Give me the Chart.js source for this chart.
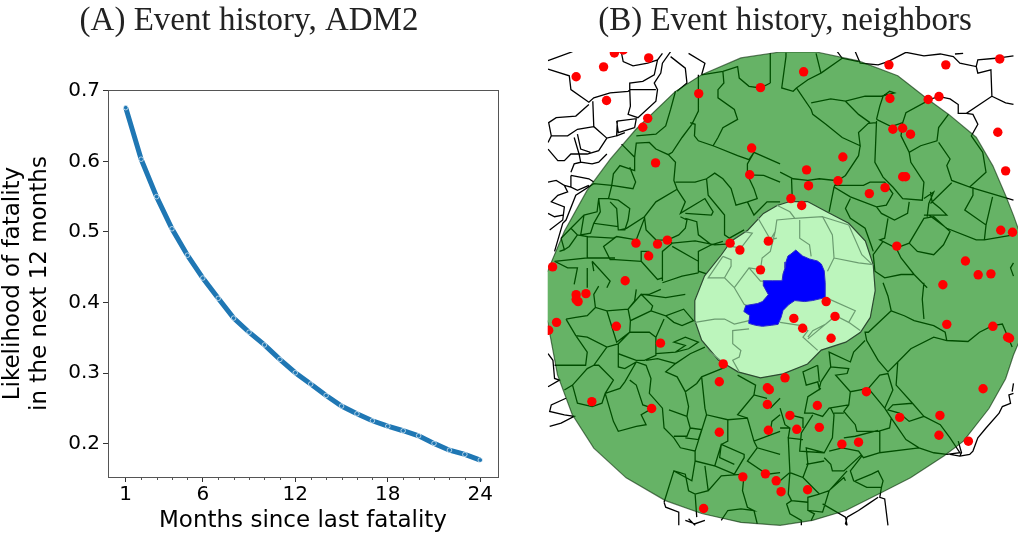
<!DOCTYPE html>
<html>
<head>
<meta charset="utf-8">
<title>Event history</title>
<script src="https://cdn.jsdelivr.net/npm/chart.js@4"></script>
<style>
  html, body { margin: 0; padding: 0; background: #fff; overflow: hidden; }
  canvas { position: absolute; top: 0; }
  #history-chart { left: 0; }
  #map-chart { left: 543px; }
</style>
</head>
<body>
<canvas id="history-chart" width="510" height="537"></canvas>
<canvas id="map-chart" width="484" height="537"></canvas>
<script>
// Panel A values
const months = [1, 2, 3, 4, 5, 6, 7, 8, 9, 10, 11, 12, 13, 14, 15, 16, 17, 18, 19, 20, 21, 22, 23, 24];
const fatalityLikelihood = [0.676, 0.603, 0.55, 0.5045, 0.467, 0.4347, 0.406, 0.378, 0.358, 0.34, 0.3195, 0.3006,
  0.2846, 0.2685, 0.2534, 0.2425, 0.2326, 0.225, 0.2185, 0.2114, 0.2006, 0.191, 0.185, 0.177];
const monthTicks = [1, 6, 12, 18, 24];
const likelihoodTicks = [0.2, 0.3, 0.4, 0.5, 0.6, 0.7];

// Panel B map coordinates
const eventsX = [611, 620, 646, 600, 572, 603, 645, 640, 697, 760, 653, 751, 749, 633, 655, 665, 646, 729, 739, 768, 760, 548, 622,
  804, 891, 949, 1004, 892, 931, 942, 895, 905, 913, 1002, 844, 807, 1010, 905, 908, 839, 809, 887, 871, 791, 802, 899, 1005, 1017, 969, 982, 995, 946,
  572, 582, 572, 574, 552, 544, 613, 658, 722, 718, 767, 769, 767, 588, 649, 768, 718, 742, 765, 776, 781, 702,
  827, 836, 794, 803, 832, 950, 997, 1012, 1014, 785, 868, 987, 818, 790, 797, 820, 902, 943, 942, 972, 860, 843, 808];
const eventsY = [53, 50, 58, 67, 77, 101, 119, 128, 94, 88, 164, 149, 176, 245, 246, 242, 258, 245, 252, 243, 272, 269, 283,
  72, 65, 65, 59, 99, 100, 97, 130, 129, 135, 133, 158, 171, 172, 178, 178, 182, 187, 189, 195, 200, 207, 248, 232, 234, 263, 277, 276, 287,
  297, 296, 302, 304, 325, 333, 329, 346, 367, 385, 391, 393, 408, 405, 412, 434, 436, 481, 478, 485, 496, 513,
  304, 319, 321, 331, 341, 327, 329, 340, 341, 381, 395, 392, 409, 419, 433, 431, 421, 419, 439, 445, 446, 448, 494];

const ringOutlineX = [780, 817, 860, 900, 931, 952, 980, 997, 1010, 1018, 1030, 1030, 1018, 1010, 993, 967, 947, 913, 883, 847, 813, 780,
  740, 700, 663, 623, 590, 568, 553, 543, 530, 530, 543, 560, 583, 607, 633, 673, 700, 740, 780];
const ringOutlineY = [52, 52, 61, 76, 100, 115, 138, 167, 197, 217, 250, 330, 358, 382, 412, 445, 460, 482, 497, 515, 525, 530,
  527, 518, 505, 482, 452, 418, 378, 325, 300, 280, 273, 233, 192, 160, 130, 92, 75, 58, 52];

const innerOutlineX = [790, 808, 827, 850, 867, 875, 877, 872, 862, 847, 822, 808, 783, 760, 737, 717, 700, 693, 693, 703, 720, 730, 747, 763, 777, 790];
const innerOutlineY = [203, 203, 213, 225, 243, 267, 293, 320, 335, 345, 353, 367, 377, 381, 375, 363, 343, 323, 303, 278, 257, 243, 232, 215, 207, 203];

const focusOutlineX = [796, 791, 788, 786, 785, 783, 782, 772, 763, 763, 768, 762, 757, 745, 743, 749, 748, 755, 762, 771, 778, 781, 783, 789, 795, 805, 813, 826, 826, 825, 822, 818, 810, 803, 796];
const focusOutlineY = [252, 256, 258, 264, 270, 276, 283, 283, 283, 288, 297, 304, 306, 308, 314, 318, 326, 328, 329, 328, 327, 320, 313, 307, 303, 304, 303, 300, 285, 273, 266, 263, 261, 258, 252];

// Admin borders traced per map quadrant, flat x,y lists in 1/3 map units from each origin
const bordersNW = [
  [10,62, 85,35], [10,88, 75,108, 80,150, 135,188, 150,175, 200,160, 255,155, 262,150, 340,150],
  [147,185, 150,262, 190,297, 220,290, 222,245, 280,238, 275,265], [135,195, 95,230, 35,235, 12,250, 20,290, 10,310],
  [20,290, 45,290, 70,290, 100,270, 150,262], [90,295, 105,345, 130,345, 165,335, 190,297], [100,285, 110,330, 140,340],
  [235,40, 240,65, 270,78, 315,70, 345,60, 360,40], [345,60, 335,105, 300,125, 260,130, 260,150, 262,200, 255,225, 285,235, 340,185, 345,150, 335,130, 355,100, 360,70, 385,35],
  [385,50, 430,85, 435,130, 405,155], [440,40, 490,70, 480,105], [10,330, 40,365, 60,365, 80,345, 105,345, 110,370, 145,375, 165,370, 190,345],
  [80,400, 90,375, 110,370], [80,410, 135,420, 150,430], [80,410, 80,445, 100,455, 135,440],
  [10,430, 35,425, 60,440, 70,460, 40,470, 20,490, 60,505, 55,545, 15,575], [60,440, 80,445], [10,525, 30,535, 55,530], [220,245, 225,280, 275,265], [220,290, 245,280],
  [400,155, 385,210, 370,260, 340,285, 280,290], [470,105, 470,165, 470,215, 450,255, 420,295, 390,340, 378,347, 340,330, 320,310, 280,312, 275,355, 235,315],
  [378,347, 400,370, 395,425, 405,452, 340,490, 305,535, 250,570, 230,575], [545,95, 548,130, 530,150, 530,175, 580,210, 590,240, 545,265, 530,295, 515,320, 470,305, 458,290, 460,255, 445,250],
  [480,105, 545,95, 590,80, 595,115, 625,140, 660,145, 690,130], [690,40, 690,130], [515,320, 590,350, 625,362, 640,340, 720,375], [640,340, 620,375, 620,408, 670,410, 720,430],
  [620,408, 640,450, 650,480, 620,490, 585,500, 570,450, 545,420, 520,403, 495,420, 460,430, 400,430], [405,452, 430,490, 415,525, 490,480, 515,520, 510,530, 430,525],
  [305,535, 310,575, 340,605, 375,606, 410,590, 430,570, 435,545, 415,535], [620,490, 640,530, 680,490, 720,490], [495,420, 500,470, 550,530, 550,590, 565,600, 610,575],
  [430,540, 465,550, 470,590, 510,620, 545,610], [390,615, 460,608, 520,620, 567,617], [375,606, 390,615, 360,640, 360,730], [390,625, 470,670, 470,705], [510,620, 470,640, 470,700, 500,710],
  [275,355, 275,395, 230,380, 210,405, 205,440, 195,480, 165,480, 160,520, 120,530, 80,570, 50,600], [205,440, 150,435, 95,470, 65,545, 55,555, 30,640], [205,440, 270,450, 278,430, 260,385],
  [195,480, 225,485, 260,510, 255,545, 245,575, 225,575, 220,510, 200,490], [165,480, 170,520, 150,555, 225,565], [120,530, 110,590, 140,585, 150,555], [80,570, 100,590, 130,595, 130,660, 30,670],
  [50,600, 60,635, 45,640], [100,590, 75,625, 60,635], [305,540, 280,605, 220,595, 180,625, 200,665, 215,665, 295,670, 295,640, 320,640], [130,660, 215,660], [130,595, 210,600, 220,595],
  [30,670, 70,690, 100,690, 90,740], [145,670, 200,730, 190,750], [130,690, 130,750], [145,670, 150,700], [295,670, 345,725, 360,720], [360,735, 420,715, 470,705]
];
const bordersNE = [
  [230,35, 245,70, 300,75, 330,65, 385,37, 440,48, 490,42, 530,50, 550,70, 600,80, 605,60, 660,55, 714,48], [535,42, 560,40],
  [600,80, 605,100, 645,90, 648,170, 570,222, 545,222, 545,195, 520,178, 487,171, 453,180], [648,170, 690,190, 714,195], [570,222, 590,225, 605,255, 585,290, 620,340], [175,35, 190,55, 240,65],
  [18,38, 18,50, 5,145, 40,155, 50,145, 85,120, 125,100, 110,40], [125,100, 190,55], [50,145, 95,210, 100,225, 140,255, 190,295, 245,320, 240,280, 270,252, 295,250],
  [95,190, 155,178, 200,185, 260,170, 310,170, 350,160, 335,155, 315,170, 305,200, 295,240], [200,185, 240,225, 275,250], [295,240, 340,262, 375,250, 385,220, 450,185],
  [375,250, 370,290, 395,340, 430,320, 480,305, 485,265, 515,225], [295,245, 290,370, 315,415, 345,445, 375,480, 435,485, 440,430, 400,370, 395,340],
  [245,320, 240,350, 200,410, 176,426, 165,445, 215,475, 295,505, 325,500, 345,465, 320,430, 275,430, 255,440, 215,440, 165,440], [176,426, 120,420, 85,425, 40,420, 0,400], [35,420, 37,475], [165,445, 150,520],
  [295,505, 310,525, 350,545, 390,525, 395,490], [215,480, 200,510, 215,540, 260,570, 280,625, 285,640], [330,540, 320,600, 305,605, 355,630, 395,615, 440,540, 470,535, 520,580, 500,620, 470,650, 420,640, 395,615],
  [440,480, 470,460, 455,495, 450,535], [460,460, 465,490, 490,510, 510,530, 440,530], [485,310, 520,360, 510,380, 525,425, 580,445, 630,400, 620,340], [525,432, 460,495],
  [580,445, 714,485], [590,445, 590,470, 565,515, 630,560, 650,475], [630,560, 625,605], [455,530, 510,570, 600,605, 625,605, 714,590], [355,630, 370,660, 410,710, 450,750],
  [315,610, 285,650, 290,700, 320,720, 370,710, 410,710], [714,675, 705,690, 714,715]
];
const bordersSW = [
  [10,215, 25,235, 30,290, 45,295, 10,315], [65,350, 20,370, 15,390, 60,400, 90,405, 50,425, 15,435], [365,665, 370,680, 410,695, 410,735], [430,720, 460,730, 490,720], [440,715, 460,735],
  [65,110, 95,105, 130,100, 155,75, 190,85, 255,80, 295,35, 330,70, 325,85, 370,100, 425,80, 455,115, 420,130, 395,120, 370,100], [155,75, 150,35, 165,10], [295,35, 320,35, 355,20], [300,35, 370,45, 430,35], [255,80, 275,55, 280,20],
  [190,85, 220,180, 260,150, 320,150, 340,165, 365,110], [255,80, 262,115, 325,85], [262,115, 260,150, 225,185, 190,195, 130,165, 95,160, 65,110], [95,160, 130,210, 125,250, 30,250],
  [190,195, 150,250, 130,260, 85,310, 60,325], [85,310, 100,365, 145,375, 175,365, 185,335, 210,295, 165,250, 150,250], [225,185, 225,215, 280,235, 305,235, 340,220, 340,165],
  [225,215, 225,255, 245,260, 280,240, 310,250, 325,290, 320,335, 360,380, 365,440, 395,470, 415,500, 460,510, 460,540], [280,240, 245,300, 230,320, 185,335, 210,420, 225,450, 280,435, 310,430, 295,400, 330,380, 300,370, 280,310, 260,295],
  [310,235, 345,230, 400,245, 370,270, 405,285, 430,330, 465,305, 480,285, 555,255], [400,245, 445,215, 490,195], [340,215, 400,210, 440,200, 470,180, 430,165, 395,180, 430,190, 400,210],
  [480,285, 490,380, 495,400, 560,415, 620,410, 640,480], [430,330, 440,375, 435,405, 380,385], [435,405, 445,440, 435,465, 395,465], [445,440, 480,445, 470,475, 430,470], [495,400, 460,510],
  [460,540, 520,555, 540,490, 610,520, 610,530, 580,580, 520,555], [540,490, 535,530, 580,550], [460,540, 450,600, 395,570, 365,665], [395,570, 430,580, 440,630, 460,640, 500,630, 490,555], [460,640, 465,710], [500,630, 540,585, 610,580],
  [610,580, 605,630, 620,680, 640,690, 600,685, 560,690, 540,720], [560,415, 560,480, 540,490], [620,410, 590,400, 640,340, 680,350], [640,480, 650,500, 720,520], [650,500, 620,540, 680,580, 720,575],
  [640,480, 720,450], [690,380, 720,350], [640,690, 650,730], [640,340, 645,310, 590,280], [720,400, 695,420, 690,450]
];
const bordersSE = [
  [315,0, 330,40, 340,85, 270,150, 260,150, 265,175, 300,235, 330,270, 360,240, 400,200, 470,165, 510,175, 575,178, 610,150, 650,130, 680,125, 710,195], [340,85, 380,100, 410,115, 470,130, 505,150, 510,175], [440,0, 435,50, 440,110],
  [360,240, 355,310, 405,365, 440,405, 395,420, 365,395, 330,385, 345,370, 405,365], [260,175, 225,210, 215,240, 150,210, 155,255, 210,260, 205,275, 170,280, 215,330, 270,320, 305,280, 330,275, 345,325, 320,380],
  [440,405, 490,430, 520,470, 550,515, 510,520], [215,330, 210,370, 195,390, 230,430, 235,450, 300,450, 335,440, 340,410, 320,380], [340,410, 385,475, 425,500, 470,515, 510,520], [270,320, 320,380], [305,450, 305,515, 425,500],
  [115,250, 70,270, 80,310, 115,300, 120,320, 125,300, 155,255], [115,250, 120,300], [125,320, 85,345, 75,395, 100,395, 130,405, 150,380, 210,370], [155,380, 165,400, 160,470, 135,515, 80,500, 85,550, 70,590, 30,575, 0,600],
  [195,395, 165,395], [195,470, 230,465, 300,447], [305,515, 255,530, 240,510, 190,500, 150,510], [135,530, 155,550, 160,570, 195,570, 250,520], [250,525, 215,570, 225,600, 265,620, 310,620, 315,600, 300,570, 280,580, 230,600],
  [80,550, 135,540], [70,590, 120,640, 150,630, 205,570], [155,625, 195,590, 200,600], [30,575, 25,470, 70,475], [25,470, 30,440, 15,430, 0,380], [100,400, 65,455, 60,510, 135,515], [0,440, 30,440], [30,400, 70,410, 70,440],
  [120,640, 85,650, 85,690, 130,695, 150,630], [130,670, 200,710, 205,735], [30,575, 25,640, 35,660, 85,665], [35,660, 20,670, 30,700, 65,720, 65,735], [95,720, 105,700, 85,690],
  [310,620, 305,650, 320,655, 330,735], [300,650, 270,670, 240,690, 205,710], [205,710, 200,730, 205,735], [520,520, 550,525, 580,520, 590,510, 605,470, 630,440, 670,395, 680,375, 705,365, 700,340, 714,335], [545,480, 555,515, 550,525], [714,305, 710,330]
];
const bordersInner = [
  [290,50, 330,70, 345,90, 290,95, 285,130, 270,155, 290,150], [345,90, 430,85, 460,140, 465,210, 445,250], [430,85, 510,110, 550,200, 580,228], [465,210, 540,225, 585,230], [360,95, 360,150, 390,170, 395,205],
  [230,85, 265,145], [190,130, 215,135, 180,180, 150,175], [285,130, 270,190, 245,210, 240,245, 205,240, 160,300, 130,270, 80,270, 125,205], [125,205, 150,215, 150,235, 130,270], [205,240, 240,280, 250,280], [160,300, 190,350, 200,355],
  [40,405, 100,395, 130,395, 160,410, 205,400], [205,425, 155,430, 155,470, 180,490, 175,510, 155,520, 175,555], [80,490, 130,530], [300,405, 365,415, 385,430, 370,450, 415,490], [385,455, 470,385, 510,405, 530,370, 440,330],
  [510,405, 545,430], [470,385, 440,410, 400,430, 385,450]
];

// origins of the traced quadrants on the map
const tileOrigins = { nw: [540, 40], ne: [780, 40], sw: [540, 285], se: [780, 285], inner: [680, 190] };

function outlinePoints(xs, ys) {
  return xs.map((x, i) => ({ x: x, y: ys[i] }));
}

// Flatten polylines to one point list, a null point breaks the line
function borderPoints(lines, origin) {
  const points = [];
  lines.forEach((line) => {
    for (let i = 0; i < line.length; i += 2) {
      points.push({ x: origin[0] + line[i] / 3, y: origin[1] + line[i + 1] / 3 });
    }
    points.push({ x: null, y: null });
  });
  return points;
}

// Frame and small month ticks for panel A
const framePlugin = {
  id: "frame",
  afterDraw(chart) {
    const { ctx, chartArea, scales } = chart;
    ctx.save();
    ctx.strokeStyle = "#555";
    ctx.lineWidth = 1;
    ctx.strokeRect(Math.round(chartArea.left) + 0.5, Math.round(chartArea.top) + 0.5, Math.round(chartArea.width), Math.round(chartArea.height));
    months.forEach((m) => {
      if (monthTicks.includes(m)) return;
      const x = Math.round(scales.x.getPixelForValue(m)) + 0.5;
      ctx.beginPath();
      ctx.moveTo(x, chartArea.bottom);
      ctx.lineTo(x, chartArea.bottom + 3);
      ctx.stroke();
    });
    ctx.restore();
  },
};

new Chart(document.getElementById("history-chart"), {
  type: "scatter",
  data: {
    datasets: [
      {
        data: months.map((m, i) => ({ x: m, y: fatalityLikelihood[i] })),
        showLine: true,
        borderColor: "#1f77b4",
        borderWidth: 5,
        tension: 0,
        pointRadius: 2.3,
        pointBackgroundColor: "#1f77b4",
        pointBorderColor: "rgba(255,255,255,0.8)",
        pointBorderWidth: 0.8,
      },
    ],
  },
  options: {
    responsive: false,
    animation: false,
    layout: { padding: { right: 12 } },
    plugins: {
      legend: { display: false },
      tooltip: { enabled: false },
      title: {
        display: true,
        text: "(A) Event history, ADM2",
        color: "#222",
        font: { family: "'Liberation Serif'", size: 33, weight: "normal" },
        padding: { top: 2, bottom: 48.4 },
      },
    },
    scales: {
      x: {
        type: "linear",
        min: -0.15,
        max: 25.15,
        afterBuildTicks: (scale) => { scale.ticks = monthTicks.map((v) => ({ value: v })); },
        afterFit: (scale) => { scale.height = 60; },
        grid: { drawOnChartArea: false, tickLength: 5, color: "#333" },
        border: { color: "#555" },
        ticks: { color: "#000", font: { family: "'DejaVu Sans'", size: 20 }, padding: 1, maxRotation: 0, callback: (v) => String(v) },
        title: { display: true, text: "Months since last fatality", color: "#000", font: { family: "'DejaVu Sans'", size: 23 }, padding: { top: 0, bottom: 2 } },
      },
      y: {
        min: 0.153,
        max: 0.701,
        afterBuildTicks: (scale) => { scale.ticks = likelihoodTicks.map((v) => ({ value: v })); },
        afterFit: (scale) => { scale.width = 108; },
        grid: { drawOnChartArea: false, tickLength: 5, color: "#333" },
        border: { color: "#555" },
        ticks: { color: "#000", font: { family: "'DejaVu Sans'", size: 20 }, padding: 3, callback: (v) => v.toFixed(1) },
        title: { display: true, text: ["Likelihood of fatality", "in the next 12 months"], color: "#000", font: { family: "'DejaVu Sans'", size: 23, lineHeight: 1.15 }, padding: { top: 0, bottom: 0 } },
      },
    },
  },
  plugins: [framePlugin],
});

const shapeBase = { showLine: true, tension: 0, pointRadius: 0, spanGaps: false };

// First dataset is drawn on top in Chart.js
new Chart(document.getElementById("map-chart"), {
  type: "scatter",
  data: {
    datasets: [
      { data: outlinePoints(eventsX, eventsY), showLine: false, pointRadius: 4.7, pointBorderWidth: 0, pointBackgroundColor: "#ff0000" },
      { ...shapeBase, data: outlinePoints(focusOutlineX, focusOutlineY), fill: "shape", backgroundColor: "#0000ff", borderColor: "#2a2acc", borderWidth: 1 },
      { ...shapeBase, data: borderPoints(bordersInner, tileOrigins.inner), borderColor: "#6b9c70", borderWidth: 1.2 },
      { ...shapeBase, data: outlinePoints(innerOutlineX, innerOutlineY), fill: "shape", backgroundColor: "#bcf5bc", borderColor: "#2c4a30", borderWidth: 1.2 },
      { ...shapeBase, data: outlinePoints(ringOutlineX, ringOutlineY), fill: "shape", backgroundColor: "rgba(0,128,0,0.6)", borderColor: "rgba(0,40,0,0.6)", borderWidth: 1.2 },
      {
        ...shapeBase,
        data: [].concat(
          borderPoints(bordersNW, tileOrigins.nw),
          borderPoints(bordersNE, tileOrigins.ne),
          borderPoints(bordersSW, tileOrigins.sw),
          borderPoints(bordersSE, tileOrigins.se)
        ),
        borderColor: "#000",
        borderWidth: 1.3,
      },
    ],
  },
  options: {
    responsive: false,
    animation: false,
    plugins: {
      legend: { display: false },
      tooltip: { enabled: false },
      title: {
        display: true,
        text: "(B) Event history, neighbors",
        color: "#222",
        font: { family: "'Liberation Serif'", size: 33, weight: "normal" },
        padding: { top: 2, bottom: 10.4 },
      },
    },
    scales: {
      x: { type: "linear", display: false, min: 543, max: 1027 },
      y: { type: "linear", display: false, min: 52, max: 537, reverse: true },
    },
  },
});
</script>
</body>
</html>
